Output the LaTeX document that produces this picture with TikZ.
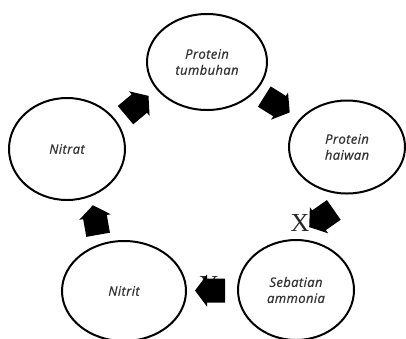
\documentclass[tikz,border=0pt]{standalone}
\usepackage{fontspec}
\setsansfont{Open Sans}[ItalicFeatures={LetterSpace=3,FakeBold=0.6}]
\setmainfont{Liberation Serif}
\usetikzlibrary{shapes.geometric,calc}
\begin{document}
\begin{tikzpicture}[x=1pt,y=-1pt,
  stage/.style={draw=black,line width=2pt,ellipse,inner sep=0pt,align=center,
    font=\sffamily\itshape\fontsize{13}{16}\selectfont,text=black!80},
  blockarr/.pic={\fill[black] (-15,-12) -- (3,-12) -- (3,-16) -- (15,0) -- (3,16) -- (3,12) -- (-15,12) -- cycle;},
  lbl/.style={font=\fontsize{26}{26}\selectfont,inner sep=0pt,text=black!85}]
\useasboundingbox[fill=white] (0,0) rectangle (406,338);
\node[stage,minimum width=120pt,minimum height=96pt] (tumb) at (207,62) {Protein\\tumbuhan};
\node[stage,minimum width=116pt,minimum height=93pt] (haiwan) at (347,147) {Protein\\haiwan};
\node[stage,minimum width=116pt,minimum height=102pt] (nitrat) at (67,149) {Nitrat};
\node[stage,minimum width=124pt,minimum height=100pt] (nitrit) at (124,291) {Nitrit};
\node[stage,minimum width=116pt,minimum height=100pt] (ammonia) at (296,290) {Sebatian\\ammonia};
\node[lbl] (X) at (300,223) {X};
\node[lbl] (Y) at (209,285) {Y};
\path ($(nitrat)!0.5!(tumb)$) pic[rotate=40]{blockarr};
\path ($(tumb)!0.5!(haiwan)$) pic[rotate=-32]{blockarr};
\path ($(haiwan)!0.5!(ammonia)$) pic[rotate=215]{blockarr};
\path ($(ammonia)!0.5!(nitrit)$) pic[rotate=180]{blockarr};
\path ($(nitrit)!0.5!(nitrat)$) pic[rotate=100]{blockarr};
\end{tikzpicture}
\end{document}
